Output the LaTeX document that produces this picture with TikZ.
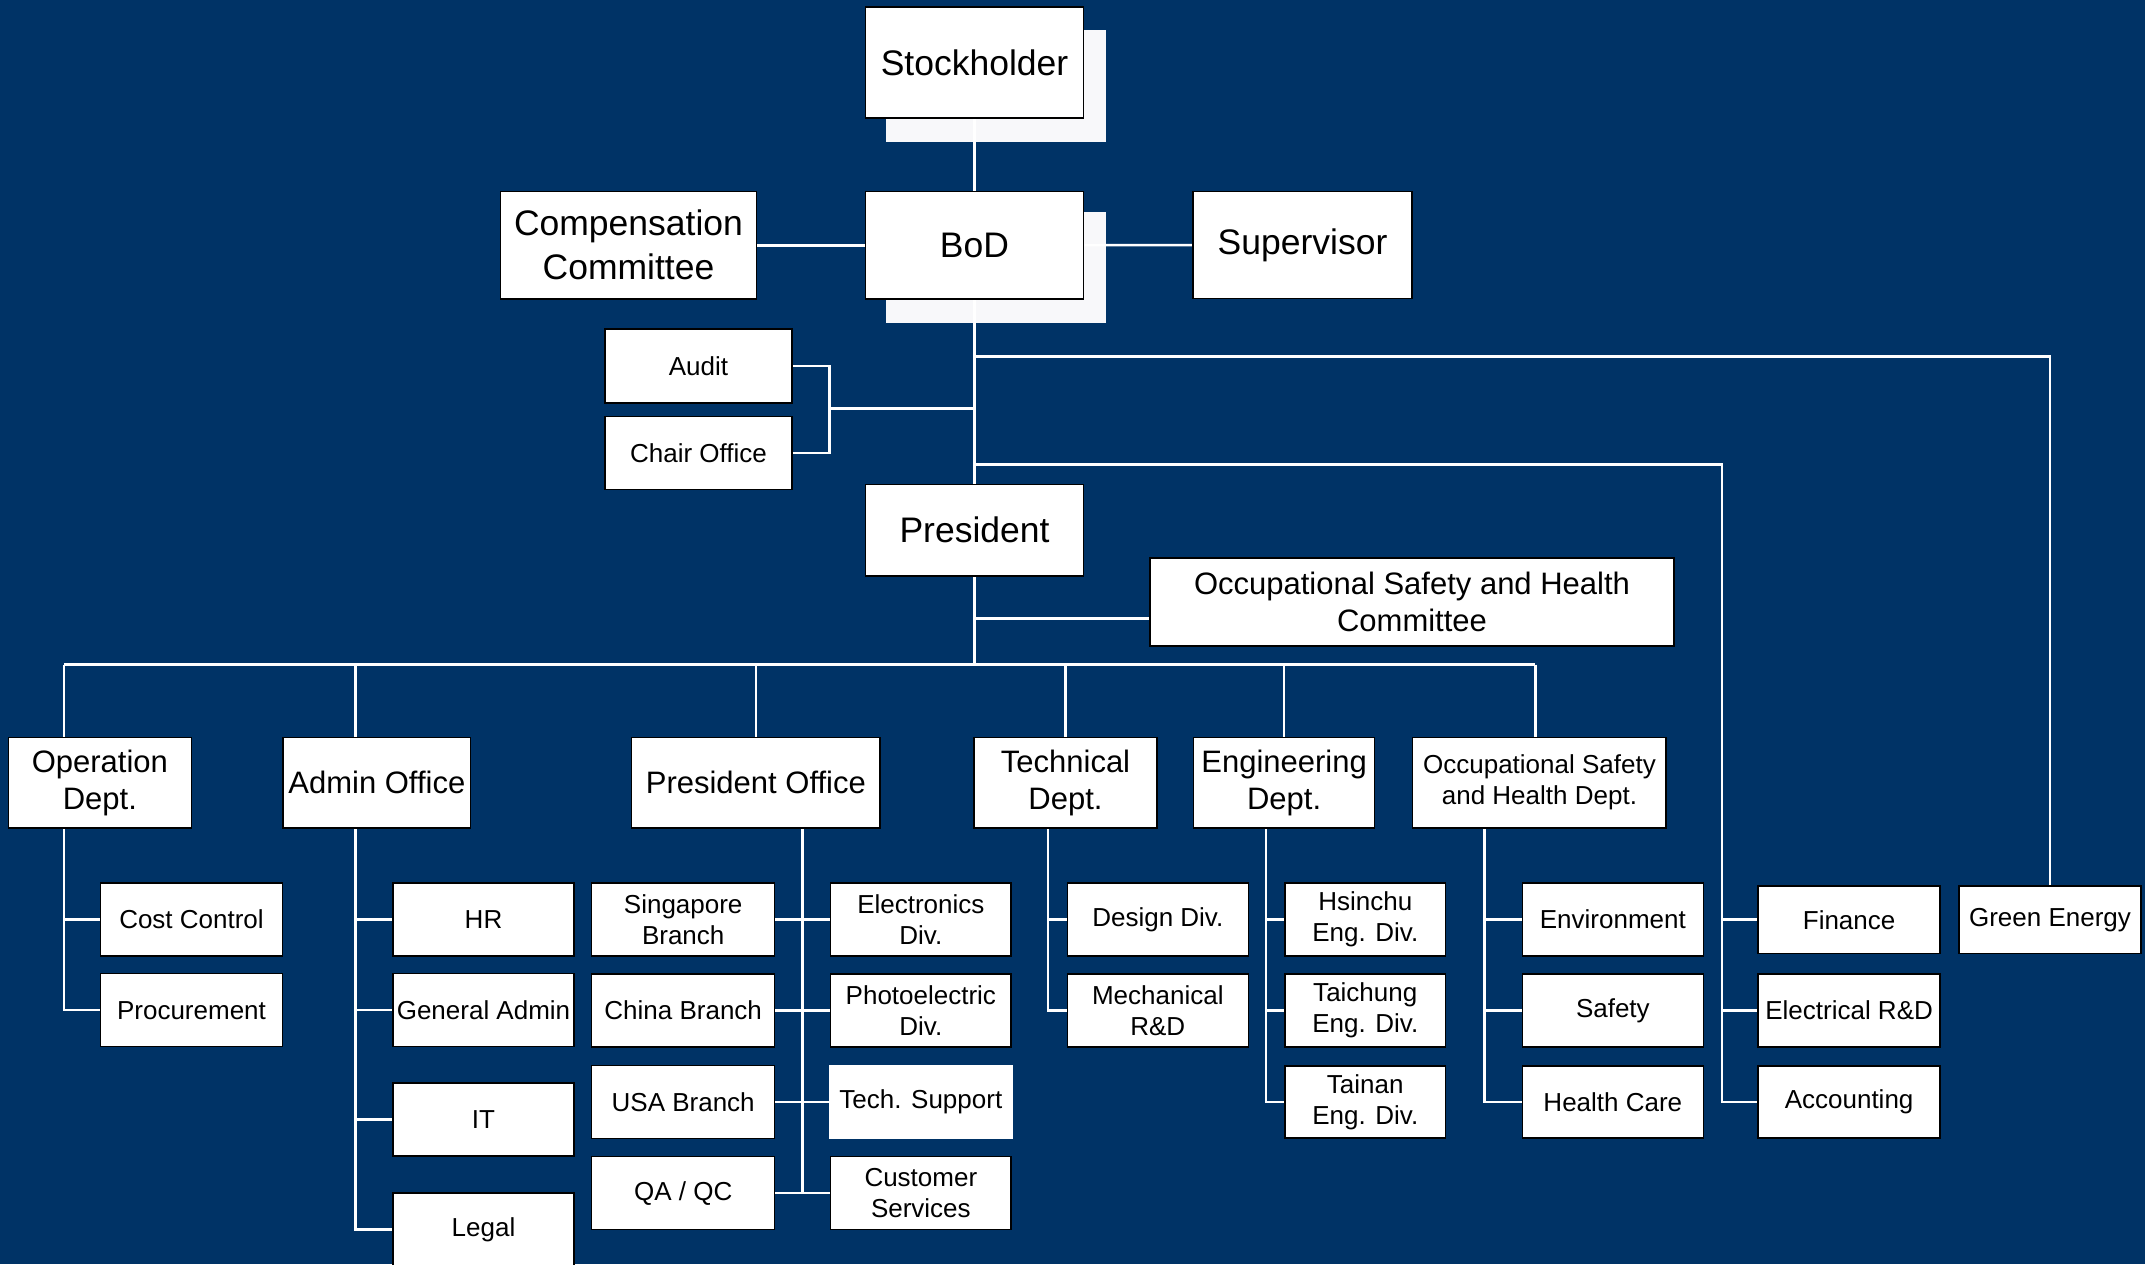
\documentclass[tikz,border=0pt]{standalone}
\usepackage{fontspec}
\setmainfont{Liberation Sans}
\definecolor{bgc}{RGB}{0,51,102}
\definecolor{shadowc}{RGB}{248,248,250}
\pgfdeclarelayer{bglayer}
\pgfdeclarelayer{lines}
\pgfsetlayers{bglayer,lines,main}
\tikzset{
  box/.style={draw=black, line width=1.5pt, fill=white, inner sep=0pt, align=center, text=black},
  big/.style={box, font=\fontsize{35.5}{44}\selectfont},
  mid/.style={box, font=\fontsize{31}{36.5}\selectfont},
  small/.style={box, font=\fontsize{26}{31}\selectfont},
  link/.style={draw=white, line width=2.5pt},
}
\begin{document}
\begin{tikzpicture}[x=1pt,y=-1pt]
\useasboundingbox (0,0) rectangle (2145,1264);
\begin{pgfonlayer}{bglayer}
\fill[bgc] (0,0) rectangle (2145,1264);
\fill[shadowc] (886,30) rectangle (1106,141.5);
\fill[shadowc] (886,212) rectangle (1106,323);
\end{pgfonlayer}

% top
\node[big, minimum width=218pt, minimum height=111pt] (stock) at (974.5,62.5) {Stockholder};
\node[big, minimum width=218pt, minimum height=107.5pt] (bod) at (974.5,245.25) {BoD};
\node[big, minimum width=256pt, minimum height=107.5pt] (comp) at (628.5,245.25) {Compensation\\Committee};
\node[big, minimum width=219pt, minimum height=107pt] (sup) at (1302.5,245) {Supervisor};
\node[small, minimum width=187pt, minimum height=74pt] (audit) at (698.5,366) {Audit};
\node[small, minimum width=187pt, minimum height=73pt] (chair) at (698.5,453) {Chair Office};
\node[big, minimum width=218pt, minimum height=91.5pt] (pres) at (974.5,530) {President};
\node[mid, minimum width=524pt, minimum height=88pt] (oshc) at (1412,602) {Occupational Safety and Health\\Committee};

% level 2
\node[mid, minimum width=183pt, minimum height=90.5pt] (op) at (99.9,782.75) {Operation\\Dept.};
\node[mid, minimum width=187.7pt, minimum height=90.5pt] (admin) at (376.85,782.75) {Admin Office};
\node[mid, minimum width=248.3pt, minimum height=90.5pt] (po) at (755.85,782.75) {President Office};
\node[mid, minimum width=183pt, minimum height=90.5pt] (tech) at (1065.5,782.75) {Technical\\Dept.};
\node[mid, minimum width=181pt, minimum height=90.5pt] (eng) at (1284.15,782.75) {Engineering\\Dept.};
\node[small, minimum width=253.5pt, minimum height=90.5pt] (oshd) at (1539.45,782.75) {Occupational Safety\\and Health Dept.};

% level 3
\tikzset{leaf/.style={small, minimum width=182pt, minimum height=73pt}}
\node[leaf] (cost) at (191.5,919.5) {Cost Control};
\node[leaf] (proc) at (191.5,1010.2) {Procurement};
\node[leaf, minimum width=181pt] (hr) at (483.5,919.5) {HR};
\node[leaf, minimum width=181pt] (ga) at (483.5,1010.2) {General Admin};
\node[leaf, minimum width=181pt] (it) at (483.5,1119.5) {IT};
\node[leaf, minimum width=181pt] (legal) at (483.5,1229.5) {Legal};
\node[leaf, minimum width=183pt] (sing) at (683.2,919.5) {Singapore\\Branch};
\node[leaf, minimum width=183pt] (china) at (683.2,1010.5) {China Branch};
\node[leaf, minimum width=183pt] (usa) at (683.2,1102) {USA Branch};
\node[leaf, minimum width=183pt] (qa) at (683.2,1193.2) {QA / QC};
\node[leaf, minimum width=180.3pt] (elec) at (920.85,919.5) {Electronics\\Div.};
\node[leaf, minimum width=180.3pt] (photo) at (920.85,1010.5) {Photoelectric\\Div.};
\node[leaf, minimum width=182pt, draw=white] (techsup) at (920.85,1102) {Tech. Support};
\node[leaf, minimum width=180.3pt] (cust) at (920.85,1193.2) {Customer\\Services};
\node[leaf, minimum width=181pt] (design) at (1157.8,919.4) {Design Div.};
\node[leaf, minimum width=181pt] (mech) at (1157.8,1010.4) {Mechanical\\R\&D};
\node[leaf, minimum width=160.7pt] (hsin) at (1365.25,919.4) {Hsinchu\\Eng. Div.};
\node[leaf, minimum width=160.7pt] (taic) at (1365.25,1010.4) {Taichung\\Eng. Div.};
\node[leaf, minimum width=160.7pt, minimum height=71.7pt] (tain) at (1365.25,1101.9) {Tainan\\Eng. Div.};
\node[leaf, minimum width=181pt] (env) at (1612.85,919.4) {Environment};
\node[leaf, minimum width=181pt] (safety) at (1612.85,1010.4) {Safety};
\node[leaf, minimum width=181pt, minimum height=71.7pt] (health) at (1612.85,1101.9) {Health Care};
\node[leaf, minimum width=181.8pt, minimum height=67.3pt] (fin) at (1849.1,919.7) {Finance};
\node[leaf, minimum width=181.8pt, minimum height=72.7pt] (elrd) at (1849.1,1010.4) {Electrical R\&D};
\node[leaf, minimum width=181.8pt, minimum height=71.7pt] (acct) at (1849.1,1101.9) {Accounting};
\node[leaf, minimum width=182pt, minimum height=67.3pt] (green) at (2050,919.7) {Green Energy};

% coordinates
\coordinate (ac) at (829.5,408.3);
\coordinate (gs) at (974.5,356.5);
\coordinate (fs) at (974.5,464.5);
\coordinate (fx) at (1722,464.5);
\coordinate (oc) at (974.5,618.3);
\coordinate (bus) at (974.5,664.5);
\coordinate (bl) at (64,664.5);
\coordinate (da) at (355.7,664.5);
\coordinate (br) at (1535.4,664.5);
\coordinate (pv) at (802.7,828);
\coordinate (tv) at (1048,828);
\coordinate (ev) at (1266,828);
\coordinate (hv) at (1484.3,828);

\begin{pgfonlayer}{lines}
\draw[link] (stock) -- (bod);
\draw[link] (bod) -- (pres);
\draw[link] (comp) -- (bod);
\draw[link] (bod) -- (sup);
\draw[link] (audit.east) -| (ac) |- (chair.east);
\draw[link] (ac) -- (ac -| bod);
\draw[link] (gs) -| (green.north);
\draw[link] (fs) -- (fx) |- (acct.west);
\draw[link] (fx |- fin.west) -- (fin.west);
\draw[link] (fx |- elrd.west) -- (elrd.west);
\draw[link] (oc) -- (oc -| oshc.west);
\draw[link] (pres) -- (bus);
\draw[link] (bl) -- (br);
% operation
\draw[link] (bl) |- (proc.west);
\draw[link] (bl |- cost.west) -- (cost.west);
% admin
\draw[link] (da) |- (legal.west);
\draw[link] (da |- hr.west) -- (hr.west);
\draw[link] (da |- ga.west) -- (ga.west);
\draw[link] (da |- it.west) -- (it.west);
% president office
\draw[link] (bus -| po) -- (po);
\draw[link] (pv) -- (pv |- qa.east);
\draw[link] (sing.east) -- (elec.west);
\draw[link] (china.east) -- (photo.west);
\draw[link] (usa.east) -- (techsup.west);
\draw[link] (qa.east) -- (cust.west);
% technical
\draw[link] (bus -| tech) -- (tech);
\draw[link] (tv) |- (mech.west);
\draw[link] (tv |- design.west) -- (design.west);
% engineering
\draw[link] (bus -| eng) -- (eng);
\draw[link] (ev) |- (tain.west);
\draw[link] (ev |- hsin.west) -- (hsin.west);
\draw[link] (ev |- taic.west) -- (taic.west);
% OSH dept
\draw[link] (br) -- (br |- oshd);
\draw[link] (hv) |- (health.west);
\draw[link] (hv |- env.west) -- (env.west);
\draw[link] (hv |- safety.west) -- (safety.west);
\end{pgfonlayer}
\end{tikzpicture}
\end{document}
